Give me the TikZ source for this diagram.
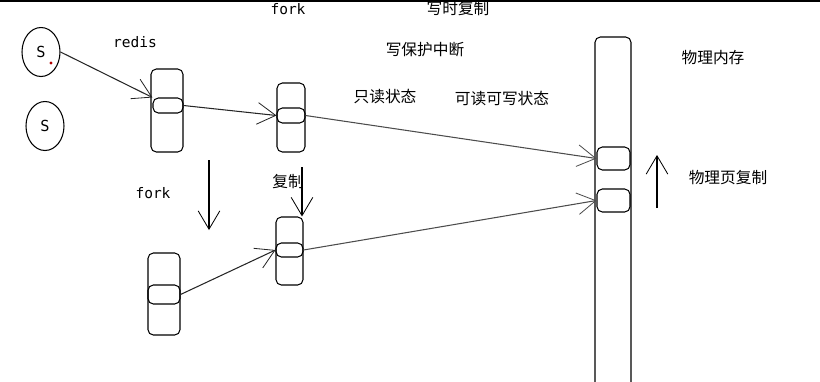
\documentclass[tikz,border=0pt]{standalone}
\usepackage{fontspec}
\setmonofont{DejaVu Sans Mono}
\newfontfamily\cjk{Noto Sans CJK SC}
\usetikzlibrary{arrows.meta,positioning,shapes.geometric}

\begin{document}
\begin{tikzpicture}[x=0.3mm, y=-0.3mm, line width=0.9pt,
    proc/.style 2 args={draw, rounded corners=1.6mm, inner sep=0pt,
      minimum width=#1*0.3mm, minimum height=#2*0.3mm},
    sock/.style={draw, ellipse, inner sep=0pt, font=\ttfamily\fontsize{13}{15}\selectfont,
      minimum width=38*0.3mm, minimum height=49*0.3mm},
    code/.style={inner sep=0pt, font=\ttfamily\fontsize{12.4}{14}\selectfont},
    note/.style={inner sep=0pt, font=\cjk\fontsize{13.4}{15}\selectfont},
    barb/.style={-{Straight Barb[length=5.5mm, width=6.5mm, line width=0.7pt]}},
    link/.style={barb, black!85},
    shared/.style={barb, gray!60!black}]
        \useasboundingbox (0,0) rectangle (820,381);
        \clip (0,0) rectangle (820,381);
        \draw[line width=0.6mm] (0,1) -- (820,1);
        % sockets
        \node[sock] (s1) at (41,52) {S};
        \node[sock] (s2) at (45,126) {S};
        \fill[red!70!black] (51,63) circle (1.6);
        % parent and child processes
        \node[proc={32}{83}] (boxA) at (167,110.5) {};
        \node[proc={30}{15}] (bandA) at (168,105.5) {};
        \node[proc={28}{69}] (boxB) at (291,117.5) {};
        \node[proc={28}{15}] (bandB) at (291,115.5) {};
        \node[proc={32}{82}] (boxC) at (164,294) {};
        \node[proc={32}{19}] (bandC) at (164,294.5) {};
        \node[proc={27}{68}] (boxD) at (289.5,251) {};
        \node[proc={27}{14}] (bandD) at (289.5,250) {};
        % physical memory
        \node[proc={36}{380}] (mem) at (613,227) {};
        \node[proc={33}{23}] (page1) at (613.5,158.5) {};
        \node[proc={33}{23}] (page2) at (613.5,200.5) {};
        % labels
        \node[code] (forkTop) at (288,9) {fork};
        \node[code] (redis) at (135,42) {redis};
        \node[code] (forkLow) at (153,193) {fork};
        \node[note] (cow) at (458,9) {写时复制};
        \node[note] (wpi) at (425,50) {写保护中断};
        \node[note] (ro) at (385,97) {只读状态};
        \node[note] (rw) at (502,99) {可读可写状态};
        \node[note] (pmem) at (713,58) {物理内存};
        \node[note] (pcopy) at (728,178) {物理页复制};
        \node[note] (copy) at (288,182) {复制};
        % connectors
        \draw[link] (s1.east) -- (bandA.north west);
        \draw[link] (bandA.east) -- (bandB.west);
        \draw[link] (bandC.east) -- (bandD.west);
        \draw[shared] (bandB.east) -- (page1.west);
        \draw[shared] (bandD.east) -- (page2.west);
        \coordinate (forkFrom) at (209,160);
        \coordinate (forkTo) at (209,230);
        \draw[barb] (forkFrom) -- (forkTo);
        \coordinate (copyFrom) at (302,167);
        \draw[barb] (copyFrom) -- (copyFrom |- boxD.north);
        \coordinate (upFrom) at (657,208);
        \coordinate (upTo) at (657,155);
        \draw[barb] (upFrom) -- (upTo);
      \end{tikzpicture}
\end{document}
